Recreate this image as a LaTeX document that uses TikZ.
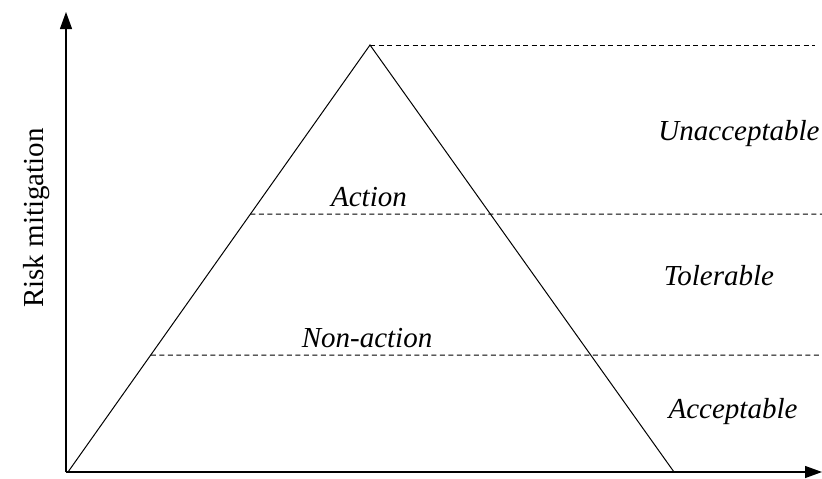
\documentclass[tikz,border=0pt]{standalone}
\usepackage{fontspec}
\setmainfont{Liberation Serif}
\usetikzlibrary{arrows.meta,calc}
\begin{document}
\begin{tikzpicture}[x=1pt,y=-1pt,
  axis/.style={line width=1.3pt,-{Triangle[width=12pt,length=17pt]}},
  side/.style={line width=1pt},
  level/.style={line width=1pt,dash pattern=on 5pt off 3.5pt},
  zone/.style={font=\fontsize{29}{34}\selectfont\itshape,inner sep=0pt,anchor=base},
  axlabel/.style={font=\fontsize{29}{34}\selectfont,inner sep=0pt,rotate=90,anchor=base}]
\useasboundingbox (0,0) rectangle (822,479);

% axes
\coordinate (O) at (66,472);
\coordinate (ytop) at (66,12);
\coordinate (xend) at (822,472);
\draw[axis] (O) -- (ytop);
\draw[axis] (O) -- (xend);
\node[axlabel] (ylab) at (43,218) {Risk mitigation};

% triangle
\coordinate (A) at (68,472);
\coordinate (B) at (674,472);
\coordinate (C) at (370,45);
\draw[side] (A) -- (C) -- (B) -- cycle;

% threshold levels
\coordinate (top end) at (815,45);
\coordinate (act) at ($(A)!{(472-214)/427}!(C)$);
\coordinate (act end) at (822,214);
\coordinate (non) at ($(A)!{(472-355)/427}!(C)$);
\coordinate (non end) at (822,355);
\draw[level] (C) -- (top end);
\draw[level] (act) -- (act end);
\draw[level] (non) -- (non end);

% labels
\node[zone] (action) at (369,206) {Action};
\node[zone] (nonaction) at (367,347) {Non-action};
\node[zone] (unacc) at (739,140) {Unacceptable};
\node[zone] (toler) at (719,285) {Tolerable};
\node[zone] (accept) at (733,418) {Acceptable};
\end{tikzpicture}
\end{document}
